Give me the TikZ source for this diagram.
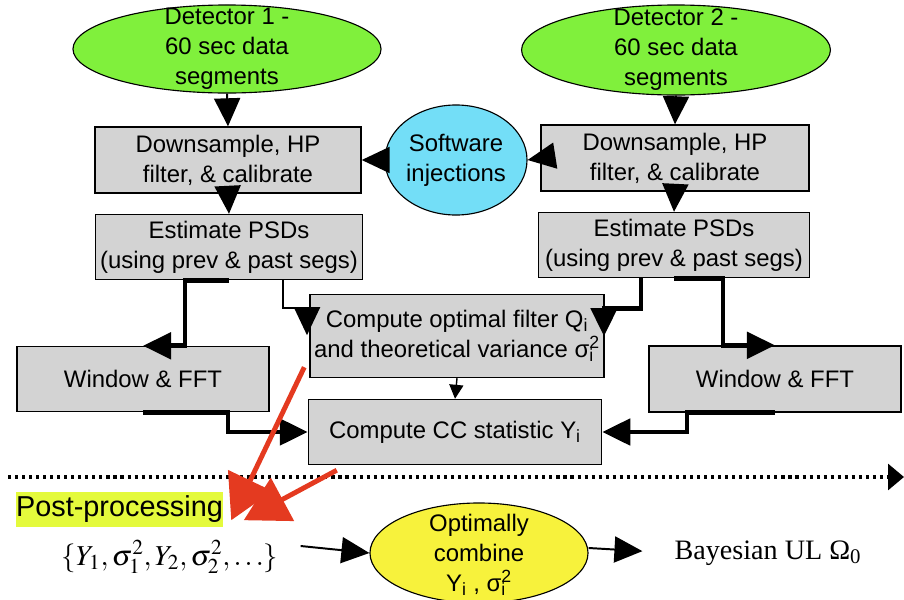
\documentclass[tikz,border=0pt]{standalone}
\usepackage{mathptmx}
\usepackage[no-math]{fontspec}
\setmainfont{Liberation Sans}
\newfontfamily\timesfont{Liberation Serif}
\usetikzlibrary{arrows.meta,shapes.geometric}
\definecolor{detgreen}{RGB}{128,240,60}
\definecolor{injcyan}{RGB}{115,222,247}
\definecolor{combyellow}{RGB}{247,242,60}
\definecolor{postlime}{RGB}{228,250,60}
\definecolor{boxgray}{RGB}{211,211,211}
\definecolor{arrred}{RGB}{228,58,32}
\newcommand\subsup[3]{#1\rlap{\textsubscript{#2}}\textsuperscript{#3}}
\begin{document}
\begin{tikzpicture}[x=0.025cm,y=-0.025cm,line join=miter,
    font=\fontsize{17}{21.3}\selectfont,
    >={Triangle[length=0.7cm,width=0.65cm]},
    box/.style={draw,line width=1pt,fill=boxgray,inner sep=0pt,align=center},
    ell/.style={ellipse,draw,line width=0.8pt,inner sep=0pt},
    txt/.style={align=center,inner sep=0pt},
    thin arr/.style={->,line width=1.4pt},
    thick arr/.style={->,line width=3.5pt},
    red arr/.style={-{Triangle[length=1.1cm,width=1.2cm]},line width=3.5pt,draw=arrred}]
    \useasboundingbox (0,0) rectangle (904,600);
    % inputs
    \node[ell,fill=detgreen,minimum width=7.7cm,minimum height=2.2cm] (det1) at (227,49) {};
    \node[txt] (det1t) at (det1) {Detector 1 -\\60 sec data\\segments};
    \node[ell,fill=detgreen,minimum width=7.72cm,minimum height=2.25cm] (det2) at (676,50) {};
    \node[txt] (det2t) at (det2) {Detector 2 -\\60 sec data\\segments};
    \node[ell,fill=injcyan,minimum width=3.55cm,minimum height=2.75cm] (soft) at (456,160) {};
    \node[txt] (softt) at (soft) {Software\\injections};
    % processing boxes
    \node[box,minimum width=6.65cm,minimum height=1.65cm] (down1) at (228,160) {Downsample, HP\\filter, \& calibrate};
    \node[box,minimum width=6.675cm,minimum height=1.625cm] (est1) at (229,247) {Estimate PSDs\\(using prev \& past segs)};
    \node[box,minimum width=6.7cm,minimum height=1.65cm] (down2) at (675,158) {Downsample, HP\\filter, \& calibrate};
    \node[box,minimum width=6.775cm,minimum height=1.625cm] (est2) at (674,245) {Estimate PSDs\\(using prev \& past segs)};
    \node[box,minimum width=7.35cm,minimum height=2.075cm] (opt) at (457,336) {Compute optimal filter Q\textsubscript{i}\\and theoretical variance \subsup{σ}{i}{2}};
    \node[box,minimum width=7.325cm,minimum height=1.625cm] (cc) at (455,432) {Compute CC statistic Y\textsubscript{i}};
    \node[box,minimum width=6.3cm,minimum height=1.625cm] (win1) at (143,379) {Window \& FFT};
    \node[box,minimum width=6.3cm,minimum height=1.65cm] (win2) at (775,379) {Window \& FFT};
    % post-processing
    \coordinate (sepL) at (8,477);
    \coordinate (sepR) at (904,477);
    \draw[line width=2.2pt,dash pattern=on 2.2pt off 2.8pt,-{Triangle[length=0.4cm,width=0.65cm]}] (sepL) -- (sepR);
    \node[fill=postlime,inner sep=0pt,minimum width=5.125cm,minimum height=0.875cm,font=\fontsize{20.5}{24}\selectfont] (post) at (119.5,509.5) {Post-processing};
    \node[inner sep=0pt,font=\fontsize{20.5}{24}\selectfont] (set) at (170,557) {$\{Y_1,\sigma_1^2,Y_2,\sigma_2^2,\ldots\}$};
    \node[ell,fill=combyellow,minimum width=5.45cm,minimum height=2.5cm] (comb) at (479,553) {};
    \node[txt] (combt) at (479,555) {Optimally\\combine\\Y\textsubscript{i} , \subsup{σ}{i}{2}};
    \node[inner sep=0pt,font=\timesfont\fontsize{20}{24}\selectfont] (bayes) at (768,553) {Bayesian UL Ω\textsubscript{0}};
    % connectors
    \draw[thin arr] (det1.south) -- (down1.north);
    \draw[thin arr] (det2.south) -- (down2.north);
    \draw[thin arr] (soft.west) -- (down1.east);
    \draw[thin arr] (down2.west) -- (soft.east);
    \draw[thin arr] (down1.south) -- (est1.north);
    \draw[thin arr] (down2.south) -- (est2.north);
    \draw[thick arr] (est1.south) -- ++(-44,0) |- (win1.north);
    \draw[thick arr] (est2.south) -- ++(49,0) |- (win2.north);
    \draw[thin arr] (est1.south) ++(54,0) -- ++(0,28) -- ++(24,0) -- ++(0,27);
    \draw[thick arr] (est2.south) ++(-33,0) -- ++(0,30) -- ++(-37,0) -- ++(0,28);
    \draw[thick arr] (win1.south) -- ++(85,0) |- (cc.west);
    \draw[thick arr] (win2.south) -- ++(-88,0) |- (cc.east);
    \draw[->,line width=1pt,>={Triangle[length=0.35cm,width=0.35cm]}] (opt.south) -- (cc.north);
    \draw[thin arr] ([shift={(22,-11)}]set.east) -- (comb.west);
    \draw[thin arr,shorten >=0.8cm] ([shift={(0,-5)}]comb.east) -- (bayes.west);
    \draw[red arr] (opt.south west) ++(-5,-11) -- ++(-73,153);
    \draw[red arr] (cc.south west) ++(29,5) -- ++(-93,50);
\end{tikzpicture}
\end{document}
